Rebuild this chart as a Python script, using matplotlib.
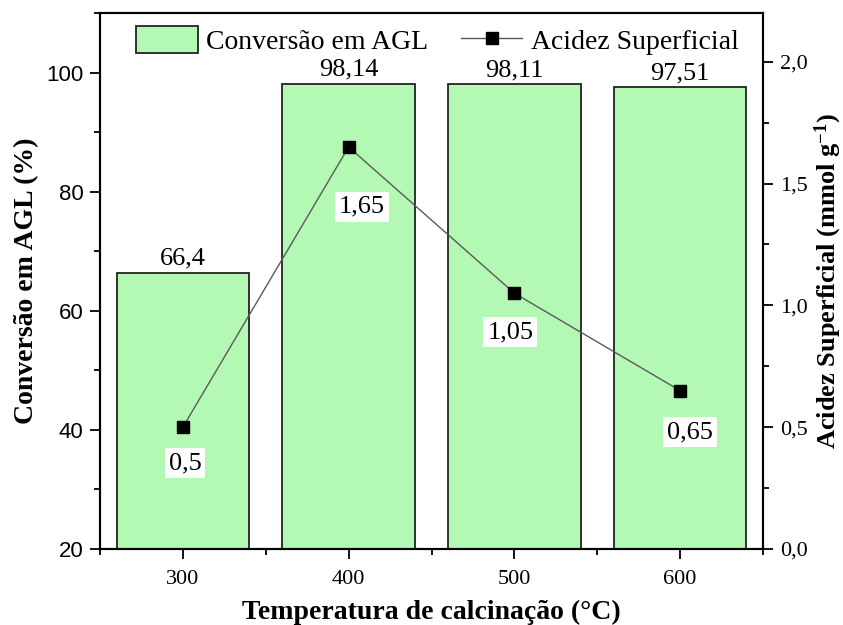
import matplotlib
matplotlib.use("Agg")
import matplotlib.pyplot as plt
from matplotlib.ticker import MultipleLocator, FixedLocator, FuncFormatter
from matplotlib.lines import Line2D
from matplotlib.patches import Patch

# ---- data ----
temperatures = [300, 400, 500, 600]
conversion = [66.4, 98.14, 98.11, 97.51]
acidity = [0.5, 1.65, 1.05, 0.65]
left_ticks = [20, 40, 60, 80, 100]
right_ticks = [0.0, 0.5, 1.0, 1.5, 2.0]
x_ticks = [300, 400, 500, 600]

# ---- style ----
SERIF = "Liberation Serif"
SANS = "Liberation Sans"
plt.rcParams["font.family"] = [SERIF, "DejaVu Serif"]
plt.rcParams["mathtext.fontset"] = "custom"
plt.rcParams["mathtext.rm"] = SERIF
plt.rcParams["mathtext.bf"] = SERIF + ":bold"
plt.rcParams["mathtext.it"] = SERIF + ":italic"

bar_color = "#b3f8b3"
label_offsets = [(1.5, -26), (9.5, -43), (-3, -28), (7, -30)]

W, H = 843, 625
fig = plt.figure(figsize=(W / 100, H / 100), dpi=100)
ax = fig.add_axes([100 / W, 1 - 549 / H, 663 / W, 536 / H])
ax2 = ax.twinx()

bars = ax.bar(temperatures, conversion, width=80, color=bar_color,
              edgecolor="#222222", linewidth=1.3, zorder=2)
for x, v in zip(temperatures, conversion):
    ax.annotate(f"{v}".replace(".", ","), (x, v), xytext=(0, 2),
                textcoords="offset points", ha="center", va="bottom",
                fontsize=19, family=SERIF)

ax.set_xlim(250, 650)
ax.set_ylim(20, 110)
ax.xaxis.set_major_locator(FixedLocator(x_ticks))
ax.xaxis.set_minor_locator(MultipleLocator(50))
ax.yaxis.set_major_locator(FixedLocator(left_ticks))
ax.yaxis.set_minor_locator(MultipleLocator(10))

line, = ax2.plot(temperatures, acidity, color="#5a5a5a", linewidth=1.0,
                 marker="s", markersize=8.5, markerfacecolor="black",
                 markeredgecolor="black", zorder=3)
for (x, v), (dx, dy) in zip(zip(temperatures, acidity), label_offsets):
    ax2.annotate(f"{v}".replace(".", ","), (x, v), xytext=(dx, dy),
                 textcoords="offset points", ha="center", va="center",
                 fontsize=19, family=SERIF,
                 bbox=dict(boxstyle="square,pad=0.15", fc="white", ec="none"))

ax2.set_ylim(0, 2.2)
ax2.yaxis.set_major_locator(FixedLocator(right_ticks))
ax2.yaxis.set_minor_locator(MultipleLocator(0.25))
ax2.yaxis.set_major_formatter(FuncFormatter(lambda v, p: f"{v:.1f}".replace(".", ",")))

for a in (ax, ax2):
    for s in a.spines.values():
        s.set_linewidth(1.5)
        s.set_color("black")
    a.tick_params(which="major", length=7, width=1.3, direction="out", pad=5)
    a.tick_params(which="minor", length=4, width=1.3, direction="out")

ax.tick_params(axis="x", labelsize=16, pad=8)
for t in ax.get_xticklabels():
    t.set_family(SERIF)
ax.tick_params(axis="y", labelsize=16)
for t in ax.get_yticklabels():
    t.set_family(SANS)
ax2.tick_params(axis="y", labelsize=16)

ax.set_xlabel("Temperatura de calcinação (°C)", fontsize=20, fontweight="bold",
              labelpad=8)
ax.set_ylabel("Conversão em AGL (%)", fontsize=20, fontweight="bold", labelpad=5)
ax2.set_ylabel(r"Acidez Superficial (mmol g$^{\mathbf{-1}}$)", fontsize=19,
               fontweight="bold", labelpad=4)

handles = [Patch(facecolor=bar_color, edgecolor="#222222", linewidth=1.3),
           Line2D([], [], color="#5a5a5a", linewidth=1.0, marker="s",
                  markersize=8.5, markerfacecolor="black", markeredgecolor="black")]
leg = ax2.legend(handles, ["Conversão em AGL", "Acidez Superficial"], ncol=2,
                 loc="upper left", bbox_to_anchor=(0.055, 0.975), frameon=False,
                 fontsize=20, handlelength=2.2, handleheight=1.1,
                 handletextpad=0.3, columnspacing=1.2, borderpad=0,
                 borderaxespad=0)

fig.savefig("out.png", dpi=100)
